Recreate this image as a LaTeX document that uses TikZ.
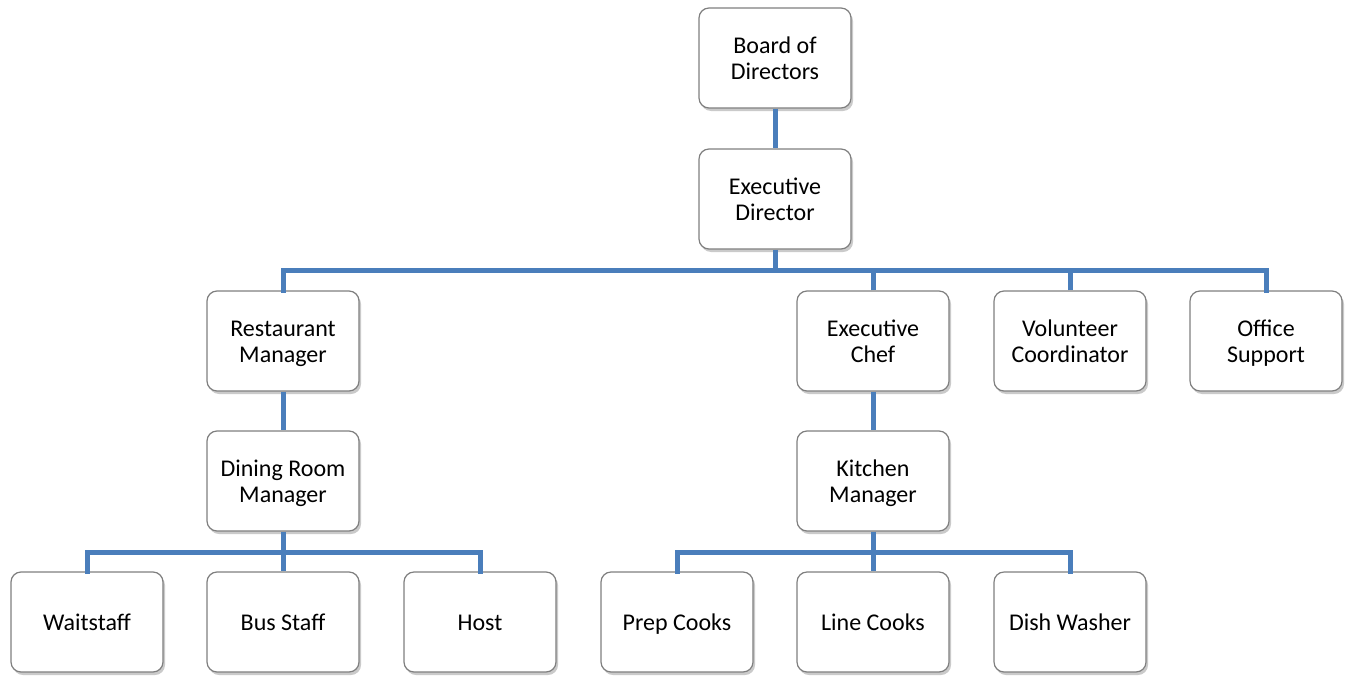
\documentclass[tikz,border=0pt]{standalone}
\usepackage{fontspec}
\setmainfont{Carlito}
\usetikzlibrary{shadows}
\definecolor{linkblue}{HTML}{4A7EBB}
\definecolor{boxline}{HTML}{7F7F7F}
\newcommand{\bx}{\rule[-4.8pt]{0pt}{26pt}}
\tikzset{
  orgbox/.style={draw=boxline, line width=1.2pt, fill=white, rounded corners=10pt,
    minimum width=152pt, minimum height=100pt, align=center, inner sep=2pt,
    font=\fontsize{24}{26}\selectfont,
    drop shadow={shadow xshift=2pt, shadow yshift=-3pt, opacity=0.35, fill=black!60}},
  link/.style={draw=linkblue, line width=5pt}
}
\begin{document}
\begin{tikzpicture}[x=1pt,y=-1pt]
\useasboundingbox (0,0) rectangle (1348,677);
\coordinate (busA) at (775,270);
\coordinate (busBL) at (283,552);
\coordinate (busBR) at (873,552);
\node[orgbox] (board) at (775,58) {Board of\bx\\Directors\bx};
\node[orgbox] (exec) at (775,199) {Executive\bx\\Director\bx};
\node[orgbox] (rest) at (283,341) {Restaurant\bx\\Manager\bx};
\node[orgbox] (chef) at (873,341) {Executive\bx\\Chef\bx};
\node[orgbox] (vol) at (1070,341) {Volunteer\bx\\Coordinator\bx};
\node[orgbox] (office) at (1266,341) {Office\bx\\Support\bx};
\node[orgbox] (dining) at (283,481) {Dining Room\bx\\Manager\bx};
\node[orgbox] (kitchen) at (873,481) {Kitchen\bx\\Manager\bx};
\node[orgbox] (wait) at (87,622) {Waitstaff\bx};
\node[orgbox] (bus) at (283,622) {Bus Staff\bx};
\node[orgbox] (host) at (480,622) {Host\bx};
\node[orgbox] (prep) at (677,622) {Prep Cooks\bx};
\node[orgbox] (line) at (873,622) {Line Cooks\bx};
\node[orgbox] (dish) at (1070,622) {Dish Washer\bx};
\draw[link] (board.south) -- (exec.north);
\draw[link] (exec.south) -- (busA);
\draw[link,line cap=rect] (rest.north) |- (busA);
\draw[link,line cap=rect] (office.north) |- (busA);
\draw[link] (chef.north) -- (chef.north |- busA);
\draw[link] (vol.north) -- (vol.north |- busA);
\draw[link] (rest.south) -- (dining.north);
\draw[link] (dining.south) -- (bus.north);
\draw[link,line cap=rect] (wait.north) |- (busBL);
\draw[link,line cap=rect] (host.north) |- (busBL);
\draw[link] (chef.south) -- (kitchen.north);
\draw[link] (kitchen.south) -- (line.north);
\draw[link,line cap=rect] (prep.north) |- (busBR);
\draw[link,line cap=rect] (dish.north) |- (busBR);
\end{tikzpicture}
\end{document}
